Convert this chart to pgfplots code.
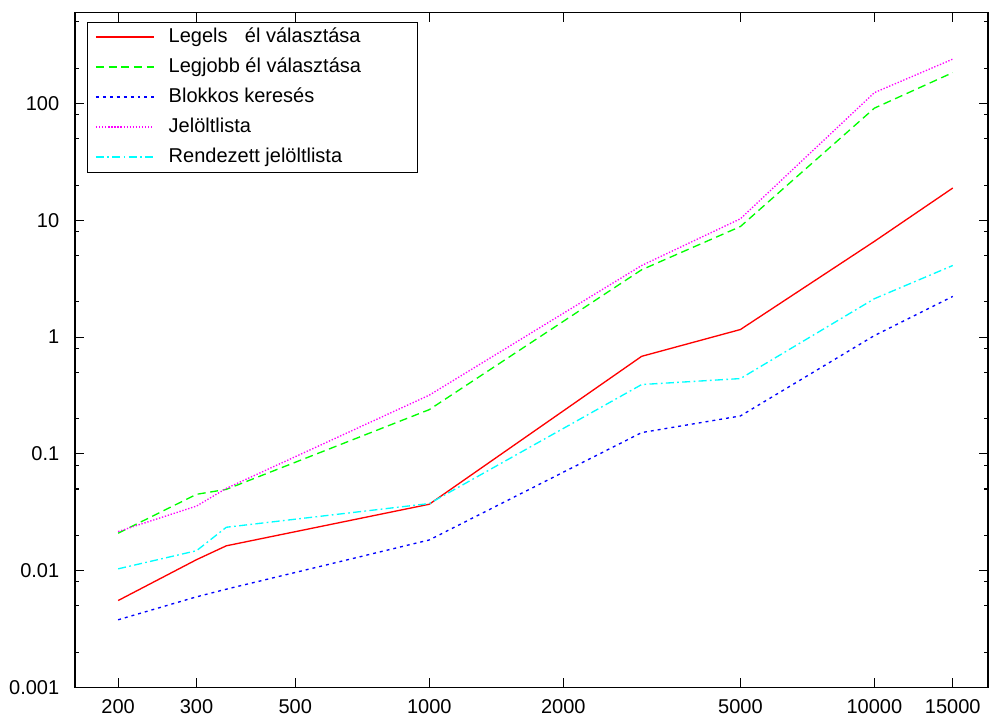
\documentclass[border=0pt]{standalone}
\usepackage{fontspec}
\setmainfont{Liberation Sans}
\usepackage{pgfplots}
\pgfplotsset{compat=1.18}
\definecolor{gpred}{RGB}{255,0,0}
\definecolor{gpgreen}{RGB}{0,255,0}
\definecolor{gpblue}{RGB}{0,0,255}
\definecolor{gpmagenta}{RGB}{255,0,255}
\definecolor{gpcyan}{RGB}{0,255,255}
\begin{document}
\begin{tikzpicture}
\begin{axis}[
    scale only axis, width=684.75pt, height=506pt,
    xmode=log, ymode=log,
    xmin=160, xmax=18000, ymin=0.001, ymax=600,
    xtick={200,300,500,1000,2000,5000,10000,15000},
    xticklabels={200,300,500,1000,2000,5000,10000,15000},
    ytick={0.001,0.01,0.1,1,10,100},
    yticklabels={0.001,0.01,0.1,1,10,100},
    minor ytick={0.002,0.005,0.008,0.02,0.05,0.08,0.2,0.5,0.8,2,5,8,20,50,80,200,500},
    xminorticks=false,
    tick align=inside, tick pos=both,
    major tick length=6.75pt, minor tick length=3pt,
    every tick/.append style={black, line width=0.8pt},
    axis line style={line width=0.8pt},
    tick label style={font=\fontsize{15}{18}\selectfont},
    xticklabel style={yshift=-5.3pt},
    yticklabel style={xshift=-8.3pt},
    legend cell align=left,
    legend style={at={(axis description cs:0,1)}, anchor=north west,
        xshift=8.8pt, yshift=-6.75pt,
        inner xsep=6.2pt, inner ysep=4pt, row sep=8pt, column sep=7.6pt,
        font=\fontsize{15}{18}\selectfont,
        nodes={inner xsep=3pt, inner ysep=0pt, text height=11.5pt, text depth=3pt}},
    legend image code/.code={\draw[#1] (0pt,0pt) -- (43.5pt,0pt);},
]
\addplot[color=gpred, line width=1pt] coordinates {(200,0.00554) (300,0.0124) (350,0.0163) (1000,0.037) (3000,0.684) (5000,1.16) (10000,6.6) (15000,18.9)};
\addlegendentry{\makebox[177pt][l]{Legels\hspace{13pt}él választása}}
\addplot[color=gpgreen, line width=1pt, dash pattern=on 6pt off 3.5pt] coordinates {(200,0.0209) (300,0.045) (350,0.0496) (1000,0.239) (3000,3.77) (5000,8.84) (10000,91.3) (15000,184)};
\addlegendentry{Legjobb él választása}
\addplot[color=gpblue, line width=1pt, dash pattern=on 2.2pt off 3pt] coordinates {(200,0.00379) (300,0.00596) (350,0.00693) (1000,0.0183) (3000,0.152) (5000,0.211) (10000,1.03) (15000,2.23)};
\addlegendentry{Blokkos keresés}
\addplot[color=gpmagenta, line width=1pt, dash pattern=on 1pt off 1.3pt] coordinates {(200,0.0216) (300,0.0357) (350,0.0506) (1000,0.318) (3000,4.10) (5000,10.3) (10000,124) (15000,240)};
\addlegendentry{Jelöltlista}
\addplot[color=gpcyan, line width=1pt, dash pattern=on 6pt off 2.5pt on 1.3pt off 2.5pt] coordinates {(200,0.01035) (300,0.0148) (350,0.0235) (1000,0.0375) (3000,0.392) (5000,0.441) (10000,2.13) (15000,4.10)};
\addlegendentry{Rendezett jelöltlista}
\end{axis}
\pgfresetboundingbox
\path (current axis.south west) +(-56.25pt,-26pt) (current axis.north east) +(2.25pt,9.5pt);
\end{tikzpicture}
\end{document}
